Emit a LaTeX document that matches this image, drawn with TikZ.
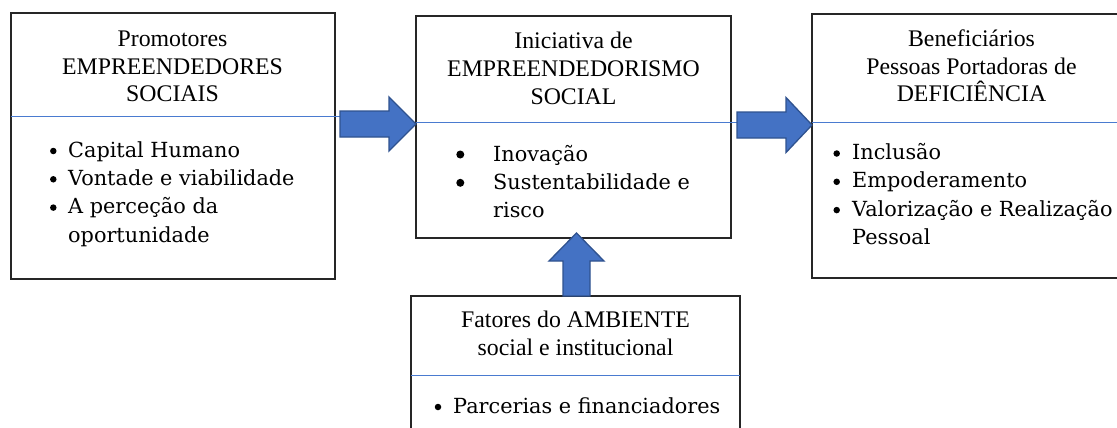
\documentclass[tikz,border=0pt]{standalone}
\usepackage{fontspec}
\setmainfont{Liberation Serif}
\newfontfamily\bulfont{DejaVu Serif}
\usetikzlibrary{calc}
\definecolor{arrowfill}{HTML}{4472C4}
\definecolor{arrowline}{HTML}{2F528F}
\definecolor{sepline}{HTML}{4A7BD0}
\definecolor{boxline}{HTML}{262626}
\begin{document}
\begin{tikzpicture}[x=1pt,y=-1pt,
  box/.style={draw=boxline, line width=1.3pt, anchor=north west, inner sep=0pt, outer sep=0pt},
  title/.style={anchor=base, align=center, font=\fontsize{23.8}{27.5}\selectfont, inner sep=0pt},
  item/.style={anchor=base west, align=left, font=\bulfont\fontsize{20.8}{28.3}\selectfont, inner sep=0pt},
  bul/.style={circle, fill=black, inner sep=0pt, minimum size=6.5pt},
  sepl/.style={draw=sepline, line width=1pt},
  blockarrow/.style={fill=arrowfill, draw=arrowline, line width=1.3pt, line join=miter}]
\useasboundingbox (0,0) rectangle (1117,428);
\clip (0,0) rectangle (1117,428);
\fill[white] (0,0) rectangle (1117,428);

% boxes
\node[box, minimum width=324pt, minimum height=266pt] (p1) at (11,13) {};
\node[box, minimum width=315pt, minimum height=222pt] (p2) at (416,16) {};
\node[box, minimum width=319pt, minimum height=264pt] (p3) at (812,14) {};
\node[box, minimum width=329pt, minimum height=150pt] (p4) at (411,296) {};

% separators
\coordinate (s1) at (340,116);
\coordinate (s2) at (737,122);
\coordinate (s3) at (1117,122);
\coordinate (s4) at (p4.east |- 0,375);
\draw[sepl] (p1.west |- s1) -- (s1);
\draw[sepl] (p2.west |- s2) -- (s2);
\draw[sepl] (p3.west |- s3) -- (s3);
\draw[sepl] (p4.west |- s4) -- (s4);

% titles (anchored at the baseline of the last line)
\node[title] (t1) at (172.5,102) {Promotores\\EMPREENDEDORES\\SOCIAIS};
\node[title] (t2) at (573.5,104) {Iniciativa de\\EMPREENDEDORISMO\\SOCIAL};
\node[title] (t3) at (971.5,102) {Beneficiários\\Pessoas Portadoras de\\DEFICIÊNCIA};
\node[title] (t4) at (575.5,355) {Fatores do AMBIENTE\\social e institucional};

% items (anchored at the baseline of the last line)
\node[item] (i1) at (68,242) {Capital Humano\\Vontade e viabilidade\\A perceção da\\oportunidade};
\node[bul] (b1a) at (53.3,151) {};
\node[bul] (b1b) at (53.3,179.3) {};
\node[bul] (b1c) at (53.3,207.6) {};

\node[item] (i2) at (493,217.6) {Inovação\\Sustentabilidade e\\risco};
\node[bul, minimum size=8pt] (b2a) at (460.3,154.5) {};
\node[bul, minimum size=8pt] (b2b) at (460.3,182.8) {};

\node[item] (i3) at (852,244.4) {Inclusão\\Empoderamento\\Valorização e Realização\\Pessoal};
\node[bul] (b3a) at (836.7,153.5) {};
\node[bul] (b3b) at (836.7,181.8) {};
\node[bul] (b3c) at (836.7,210.1) {};

\node[item] (i4) at (453,413) {Parcerias e financiadores};
\node[bul] (b4a) at (438,407) {};

% block arrows
\coordinate (a1s) at (340,124);
\coordinate (a1e) at (p2.west |- a1s);
\draw[blockarrow] ($(a1s)+(0,-13)$) -- ($(a1e)+(-27,-13)$) -- ($(a1e)+(-27,-27)$) -- (a1e)
  -- ($(a1e)+(-27,27)$) -- ($(a1e)+(-27,13)$) -- ($(a1s)+(0,13)$) -- cycle;

\coordinate (a2s) at (737,125);
\coordinate (a2e) at (p3.west |- a2s);
\draw[blockarrow] ($(a2s)+(0,-13)$) -- ($(a2e)+(-26,-13)$) -- ($(a2e)+(-26,-27.5)$) -- (a2e)
  -- ($(a2e)+(-26,27.5)$) -- ($(a2e)+(-26,13)$) -- ($(a2s)+(0,13)$) -- cycle;

\coordinate (a3s) at (p4.north -| 576.5,0);
\coordinate (a3e) at ($(p2.south -| a3s)+(0,-5)$);
\draw[blockarrow] ($(a3s)+(-13.5,0)$) -- ($(a3e)+(-13.5,28)$) -- ($(a3e)+(-27.5,28)$) -- (a3e)
  -- ($(a3e)+(27.5,28)$) -- ($(a3e)+(13.5,28)$) -- ($(a3s)+(13.5,0)$) -- cycle;
\end{tikzpicture}
\end{document}
